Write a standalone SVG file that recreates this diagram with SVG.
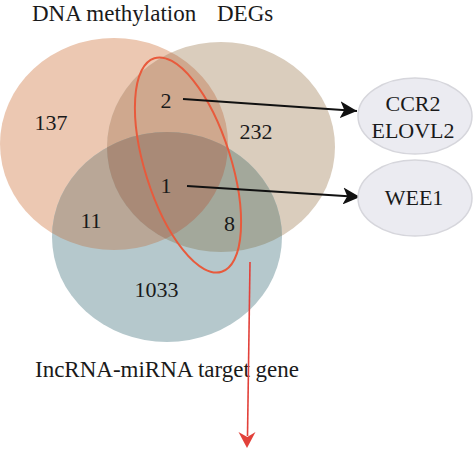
<svg xmlns="http://www.w3.org/2000/svg" width="474" height="450" viewBox="0 0 474 450">
<style>
text{font-family:"Liberation Serif","DejaVu Serif",serif;fill:#1a1a1a}
.t{font-size:23px}
.n{font-size:22px;text-anchor:middle}
.g{fill:#ebebf1;stroke:#d6d6dc;stroke-width:1.5}
.c{stroke:#111;stroke-width:1.8;fill:none}
</style>
<defs>
<ellipse id="eO" cx="114" cy="144" rx="114" ry="106"/>
<ellipse id="eT" cx="221" cy="147" rx="114" ry="105"/>
<ellipse id="eB" cx="167" cy="237" rx="115" ry="105"/>
<clipPath id="cO"><use href="#eO"/></clipPath>
<clipPath id="cT"><use href="#eT"/></clipPath>
<marker id="ah" viewBox="0 0 10 10" refX="10" refY="5" markerWidth="17" markerHeight="17" markerUnits="userSpaceOnUse" orient="auto"><path d="M0,0 L10,5 L0,10 L2.5,5 Z" fill="#111"/></marker>
</defs>
<g id="venn">
<g id="set-dna"><use href="#eO" fill="#ecc8b2"/></g>
<g id="set-degs"><use href="#eT" fill="#dacdbd"/></g>
<g id="set-lnc"><use href="#eB" fill="#b5c8cc"/></g>
<use href="#eT" fill="#cfa88e" clip-path="url(#cO)"/>
<use href="#eB" fill="#b9a797" clip-path="url(#cO)"/>
<use href="#eB" fill="#a3a89b" clip-path="url(#cT)"/>
<g clip-path="url(#cO)"><use href="#eB" fill="#a98a77" clip-path="url(#cT)"/></g>
</g>
<g id="labels">
<text class="t" x="32" y="21">DNA methylation</text>
<text class="t" x="217" y="21">DEGs</text>
<text class="t" x="35" y="377">IncRNA-miRNA target gene</text>
<text class="n" x="51" y="130">137</text>
<text class="n" x="166" y="108">2</text>
<text class="n" x="256" y="139">232</text>
<text class="n" x="166" y="193">1</text>
<text class="n" x="91" y="228">11</text>
<text class="n" x="229.5" y="231">8</text>
<text class="n" x="156.5" y="297">1033</text>
</g>
<g id="highlight">
<ellipse cx="188" cy="165" rx="43" ry="112" transform="rotate(-17.5 188 165)" fill="none" stroke="#e85a3c" stroke-width="2"/>
</g>
<g id="connectors">
<path class="c" d="M183,99 L357,111" marker-end="url(#ah)"/>
<path class="c" d="M187,186 L360,197" marker-end="url(#ah)"/>
<path d="M250,262 L247.5,436" stroke="#e2413a" stroke-width="1.6" fill="none"/>
<path d="M247,448 L238.5,432 L247.3,437 L255.5,432 Z" fill="#e2413a"/>
</g>
<g id="node-ccr2">
<ellipse class="g" cx="415" cy="116" rx="57" ry="38"/>
<text class="n" x="413" y="111">CCR2</text>
<text class="n" x="413" y="138">ELOVL2</text>
</g>
<g id="node-wee1">
<ellipse class="g" cx="415" cy="198" rx="57" ry="38"/>
<text class="n" x="414" y="205">WEE1</text>
</g>
</svg>
